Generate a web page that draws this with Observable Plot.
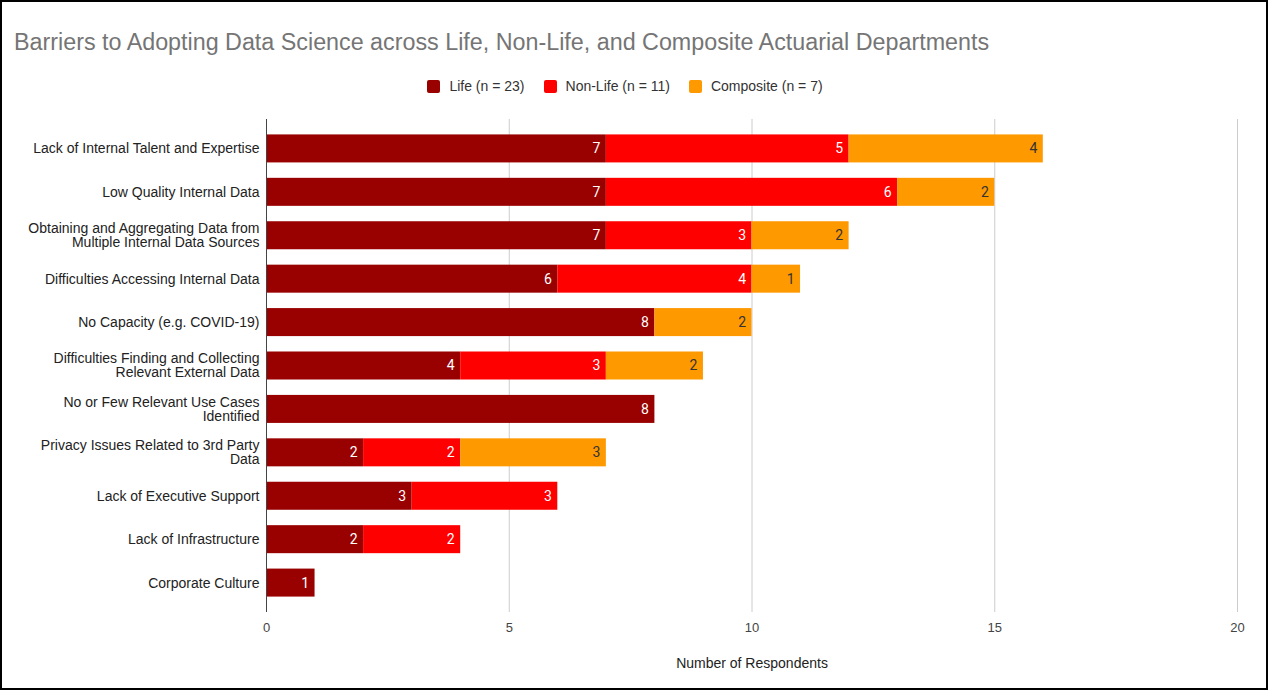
<!DOCTYPE html>
<html>
<head>
<meta charset="utf-8">
<script src="https://cdn.jsdelivr.net/npm/d3@7"></script>
<script src="https://cdn.jsdelivr.net/npm/@observablehq/plot@0.6"></script>
<style>
  html, body { margin: 0; padding: 0; background: #fff; }
  #wrap { position: relative; width: 1268px; height: 690px; overflow: hidden; font-family: "Liberation Sans", Arial, sans-serif; }
  #frame { position: absolute; left: 0; top: 0; width: 1268px; height: 690px; box-sizing: border-box; border: 2px solid #000; pointer-events: none; }
  #title { position: absolute; left: 14px; top: 29px; font-size: 23.3px; color: #757575; white-space: nowrap; }
  #legend { position: absolute; left: -9px; width: 1268px; top: 78px; display: flex; justify-content: center; font-size: 14px; color: #333; }
  .item { display: flex; align-items: center; margin: 0 9.5px; }
  .sw { width: 13px; height: 13px; border-radius: 2px; margin-right: 9px; }
  #chart { position: absolute; left: 0; top: 0; }
</style>
</head>
<body>
<div id="wrap">
  <div id="chart"></div>
  <div id="title"></div>
  <div id="legend"></div>
  <div id="frame"></div>
</div>
<script>
const titleText = "Barriers to Adopting Data Science across Life, Non-Life, and Composite Actuarial Departments";
const xLabel = "Number of Respondents";
const categories = [
  "Lack of Internal Talent and Expertise",
  "Low Quality Internal Data",
  "Obtaining and Aggregating Data from\nMultiple Internal Data Sources",
  "Difficulties Accessing Internal Data",
  "No Capacity (e.g. COVID-19)",
  "Difficulties Finding and Collecting\nRelevant External Data",
  "No or Few Relevant Use Cases\nIdentified",
  "Privacy Issues Related to 3rd Party\nData",
  "Lack of Executive Support",
  "Lack of Infrastructure",
  "Corporate Culture"
];
const series = ["Life (n = 23)", "Non-Life (n = 11)", "Composite (n = 7)"];
const colors = ["#990000", "#ff0000", "#ff9900"];
const life      = [7, 7, 7, 6, 8, 4, 8, 2, 3, 2, 1];
const nonLife   = [5, 6, 3, 4, 0, 3, 0, 2, 3, 2, 0];
const composite = [4, 2, 2, 1, 2, 2, 0, 3, 0, 0, 0];
const xTicks = [0, 5, 10, 15, 20];

// Build long table
const valuesBySeries = [life, nonLife, composite];
const rows = [];
categories.forEach((c, i) => {
  let cum = 0;
  valuesBySeries.forEach((vals, s) => {
    const v = vals[i];
    rows.push({cat: c, series: series[s], si: s, value: v, start: cum, end: cum + v});
    cum += v;
  });
});
const labelRows = rows.filter(d => d.value > 0);

document.getElementById("title").textContent = titleText;
const legend = document.getElementById("legend");
series.forEach((s, i) => {
  const it = document.createElement("div");
  it.className = "item";
  const sw = document.createElement("div");
  sw.className = "sw";
  sw.style.background = colors[i];
  const t = document.createElement("span");
  t.textContent = s;
  it.appendChild(sw); it.appendChild(t);
  legend.appendChild(it);
});

const chart = Plot.plot({
  width: 1268,
  height: 690,
  marginTop: 119,
  marginBottom: 78,
  marginLeft: 266,
  marginRight: 31,
  style: {fontFamily: "'Liberation Sans', Arial, sans-serif", background: "transparent"},
  x: {domain: [0, 20]},
  y: {domain: categories, padding: 0.355, round: false},
  color: {domain: series, range: colors},
  marks: [
    Plot.gridX({ticks: xTicks.slice(1), stroke: "#cccccc", strokeOpacity: 1}),
    Plot.barX(rows, {x1: "start", x2: "end", y: "cat", fill: "series"}),
    Plot.ruleX([0], {stroke: "#444", strokeWidth: 1}),
    Plot.text(labelRows.filter(d => d.si < 2), {x: "end", y: "cat", text: d => String(d.value), textAnchor: "end", dx: -6, fill: "white", fontSize: 14, fontFamily: "Roboto"}),
    Plot.text(labelRows.filter(d => d.si === 2), {x: "end", y: "cat", text: d => String(d.value), textAnchor: "end", dx: -6, fill: "#333", fontSize: 14, fontFamily: "Roboto"}),
    Plot.axisX({ticks: xTicks, tickSize: 0, tickPadding: 10, label: null, fontSize: 13, color: "#444"}),
    Plot.axisY({tickSize: 0, tickPadding: 7, label: null, fontSize: 14, color: "#222", lineHeight: 1.0}),
    Plot.text([xLabel], {frameAnchor: "bottom", dy: 51, fontSize: 14, fill: "#222", lineAnchor: "middle"})
  ]
});
document.getElementById("chart").appendChild(chart);
</script>
</body>
</html>
